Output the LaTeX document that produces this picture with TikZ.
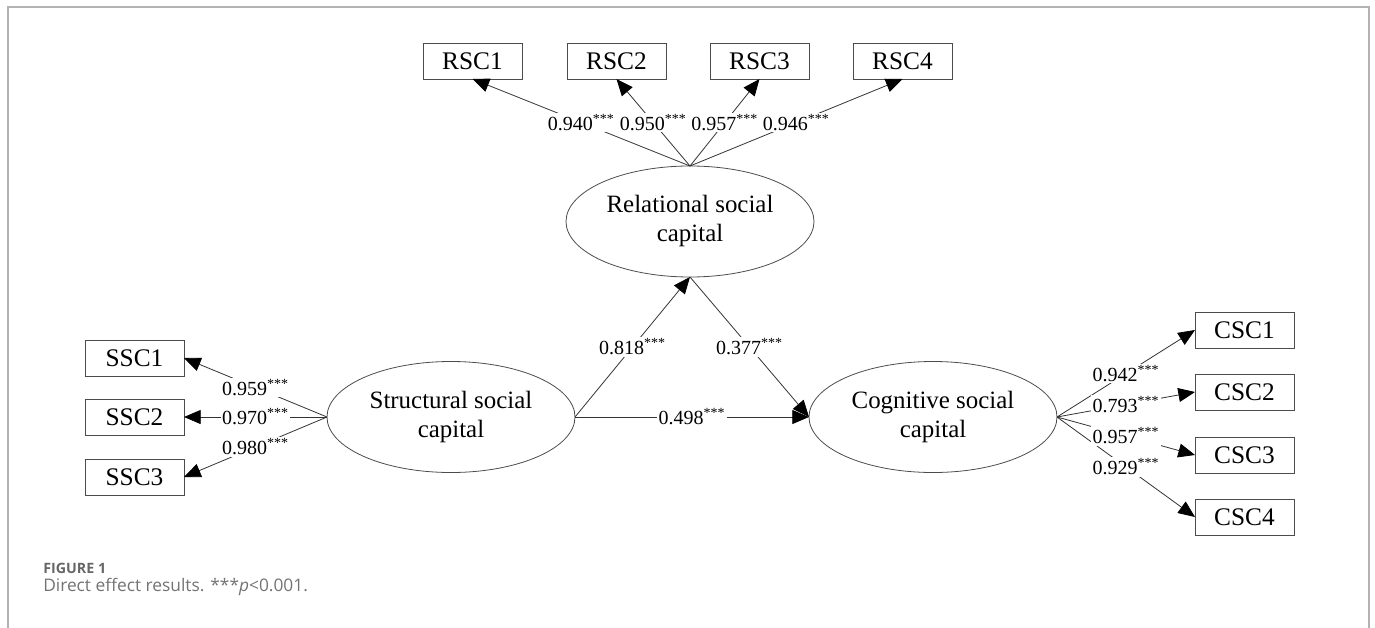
\documentclass[tikz,border=0pt]{standalone}
\usepackage{fontspec}
\setmainfont{Liberation Serif}
\newfontfamily\capfont{Open Sans}
\usetikzlibrary{arrows.meta,calc,shapes.geometric}
\begin{document}
\begin{tikzpicture}[x=0.75pt,y=-0.75pt,
 ind/.style={draw=black!70, line width=0.6pt, minimum width=74.25pt, minimum height=27pt, inner sep=0pt, outer sep=0pt, font=\fontsize{19}{21}\selectfont},
 lat/.style={ellipse, draw=black!70, line width=0.6pt, minimum width=186pt, minimum height=83.25pt, inner sep=0pt, outer sep=0pt, align=center, font=\fontsize{18.7}{21.75}\selectfont},
 conn/.style={draw=black!80, line width=0.6pt, -{Triangle[length=12.5pt,width=10.5pt,color=black]}},
 lab/.style={fill=white, inner sep=1pt, font=\fontsize{15}{17}\selectfont},
 frameline/.style={draw=black!30, line width=1.5pt}]
\useasboundingbox (0,0) rectangle (1375,628);
\draw[frameline] (8,628) -- (8,7) -- (1369,7) -- (1369,628);

% latent variables
\node[lat] (rel) at (690,221.5) {Relational social\\capital};
\node[lat] (str) at (451,417) {Structural social\\capital};
\node[lat] (cog) at (933,417) {Cognitive social\\capital};

% indicators
\node[ind] (r1) at (472.5,61) {RSC1};
\node[ind] (r2) at (616.5,61) {RSC2};
\node[ind] (r3) at (759.5,61) {RSC3};
\node[ind] (r4) at (902.5,61) {RSC4};
\node[ind] (s1) at (134.5,358) {SSC1};
\node[ind] (s2) at (134.5,417) {SSC2};
\node[ind] (s3) at (134.5,477) {SSC3};
\node[ind] (c1) at (1244.5,330) {CSC1};
\node[ind] (c2) at (1244.5,392) {CSC2};
\node[ind] (c3) at (1244.5,455) {CSC3};
\node[ind] (c4) at (1244.5,517) {CSC4};

% connectors
\draw[conn] (rel.north) -- (r1.south);
\draw[conn] (rel.north) -- (r2.south);
\draw[conn] (rel.north) -- (r3.south);
\draw[conn] (rel.north) -- (r4.south);
\draw[conn] (str.west) -- (s1.east);
\draw[conn] (str.west) -- (s2.east);
\draw[conn] (str.west) -- (s3.east);
\draw[conn] (cog.east) -- (c1.west);
\draw[conn] (cog.east) -- (c2.west);
\draw[conn] (cog.east) -- (c3.west);
\draw[conn] (cog.east) -- (c4.west);
\draw[conn] (str.east) -- (rel.south);
\draw[conn] (rel.south) -- (cog.west);
\draw[conn] (str.east) -- (cog.west);

% labels
\node[lab] (lr1) at ($(rel.north)!0.5!(r1.south)$) {0.940\textsuperscript{***}};
\node[lab] (lr2) at ($(rel.north)!0.5!(r2.south)$) {0.950\textsuperscript{***}};
\node[lab] (lr3) at ($(rel.north)!0.5!(r3.south)$) {0.957\textsuperscript{***}};
\node[lab] (lr4) at ($(rel.north)!0.5!(r4.south)$) {0.946\textsuperscript{***}};
\node[lab] (ls1) at ($(str.west)!0.5!(s1.east)$) {0.959\textsuperscript{***}};
\node[lab] (ls2) at ($(str.west)!0.5!(s2.east)$) {0.970\textsuperscript{***}};
\node[lab] (ls3) at ($(str.west)!0.5!(s3.east)$) {0.980\textsuperscript{***}};
\node[lab] (lc1) at ($(cog.east)!0.5!(c1.west)$) {0.942\textsuperscript{***}};
\node[lab] (lc2) at ($(cog.east)!0.5!(c2.west)$) {0.793\textsuperscript{***}};
\node[lab] (lc3) at ($(cog.east)!0.5!(c3.west)$) {0.957\textsuperscript{***}};
\node[lab] (lc4) at ($(cog.east)!0.5!(c4.west)$) {0.929\textsuperscript{***}};
\node[lab] (lsr) at ($(str.east)!0.5!(rel.south)$) {0.818\textsuperscript{***}};
\node[lab] (lrc) at ($(rel.south)!0.5!(cog.west)$) {0.377\textsuperscript{***}};
\node[lab] (lsc) at ($(str.east)!0.5!(cog.west)$) {0.498\textsuperscript{***}};

% caption
\node[anchor=west, inner sep=0pt, text=black!60, font=\capfont\bfseries\fontsize{10.7}{12}\selectfont] (fig) at (43,568) {FIGURE 1};
\node[anchor=west, inner sep=0pt, text=black!55, font=\capfont\fontsize{13}{15}\selectfont] (cap) at (43,587) {Direct effect results. ***\textit{p}<0.001.};
\end{tikzpicture}
\end{document}
